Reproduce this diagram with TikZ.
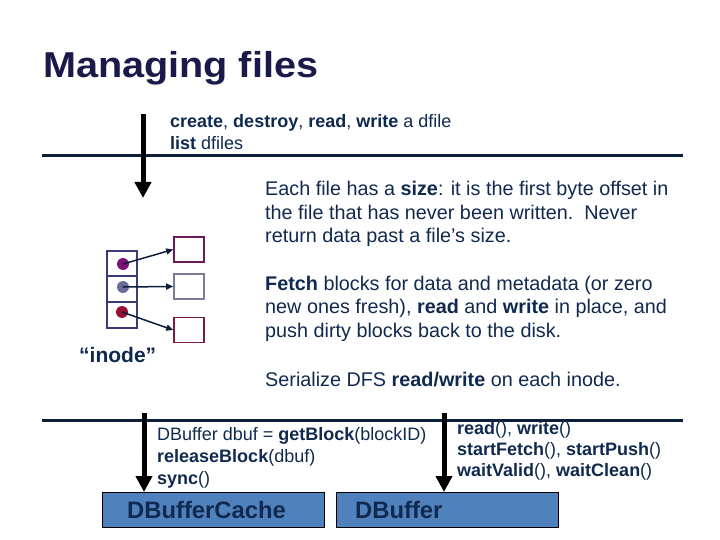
\documentclass[tikz,border=0pt]{standalone}
\usepackage{fontspec}
\setmainfont{Liberation Sans}
\newfontfamily\titlefont[FakeStretch=1.1]{Liberation Sans}
\usetikzlibrary{arrows.meta}
\definecolor{titlec}{HTML}{1A1A4A}
\definecolor{txtc}{HTML}{10294F}
\definecolor{linec}{HTML}{0D1F3A}
\definecolor{boxfill}{HTML}{4F81BD}
\definecolor{inodec}{HTML}{3B3B7A}
\definecolor{dotA}{HTML}{7B1275}
\definecolor{dotB}{HTML}{6B6B9B}
\definecolor{dotC}{HTML}{991035}
\definecolor{blkA}{HTML}{6D1A5A}
\definecolor{blkB}{HTML}{7A7A99}
\definecolor{blkC}{HTML}{7A1A45}
\tikzset{
  txt/.style={anchor=base west, inner sep=0pt, text=txtc, font=\fontsize{18}{21}\selectfont},
  para/.style={anchor=base west, inner sep=0pt, text=txtc, font=\fontsize{19.8}{23.5}\selectfont, align=left},
  sep/.style={draw=linec, line width=3pt},
  bigarrow/.style={draw=black, line width=5pt, -{Triangle[width=16pt,length=16pt]}},
  layer/.style={draw=black, line width=0.8pt, fill=boxfill, minimum width=222pt, minimum height=35pt, inner sep=0pt, outer sep=0pt},
  layertxt/.style={anchor=base west, inner sep=0pt, text=txtc, font=\fontsize{23.8}{26}\selectfont\bfseries},
  blk/.style={draw, line width=1.6pt, minimum width=30pt, minimum height=25pt, inner sep=0pt},
  dotn/.style={circle, inner sep=0pt, minimum size=12pt},
  ptr/.style={draw=linec, line width=1.5pt, -{Triangle[width=6pt,length=7pt]}},
}
\begin{document}
\begin{tikzpicture}[x=1pt,y=-1pt]
\useasboundingbox (0,0) rectangle (720,540);
% title
\node[anchor=base west, inner sep=0pt, text=titlec, font=\titlefont\fontsize{36}{40}\selectfont\bfseries] (title) at (43,78) {Managing files};
% top separator and arrow
\coordinate (l1a) at (42,156);
\coordinate (l1b) at (683,156);
\draw[sep] (l1a) -- (l1b);
\coordinate (a1s) at (143,114);
\coordinate (a1e) at (143,198);
\draw[bigarrow] (a1s) -- (a1e);
\node[txt] (t1) at (170,128) {\textbf{create}, \textbf{destroy}, \textbf{read}, \textbf{write} a dfile};
\node[txt] (t2) at (170,150) {\textbf{list} dfiles};
% paragraphs
\node[para] (p1a) at (265,196) {Each file has a \textbf{size}: it is the first byte offset in};
\node[para] (p1b) at (265,220) {the file that has never been written.\ \ Never};
\node[para] (p1c) at (265,243) {return data past a file’s size.};
\node[para] (p2a) at (265,290) {\textbf{Fetch} blocks for data and metadata (or zero};
\node[para] (p2b) at (265,313) {new ones fresh), \textbf{read} and \textbf{write} in place, and};
\node[para] (p2c) at (265,337) {push dirty blocks back to the disk.};
\node[para] (p3) at (265,386) {Serialize DFS \textbf{read/write} on each inode.};
% inode
\draw[draw=inodec, line width=1.6pt] (107,251) rectangle (137,328);
\draw[draw=inodec, line width=1.6pt] (107,276) -- (137,276);
\draw[draw=inodec, line width=1.6pt] (107,302) -- (137,302);
\node[dotn, fill=dotA] (d1) at (123,264) {};
\node[dotn, fill=dotB] (d2) at (123,287) {};
\node[dotn, fill=dotC] (d3) at (122,312) {};
\node[blk, draw=blkA] (b1) at (189,249.5) {};
\node[blk, draw=blkB] (b2) at (189,286.5) {};
\node[blk, draw=blkC] (b3) at (189,330) {};
\draw[ptr] (d1.center) -- (b1.west);
\draw[ptr] (d2.center) -- (b2.west);
\draw[ptr] (d3.center) -- (b3.west);
\node[anchor=base west, inner sep=0pt, text=txtc, font=\fontsize{21}{24}\selectfont\bfseries] (inode) at (79,362) {“inode”};
% bottom separator
\coordinate (l2a) at (42,420);
\coordinate (l2b) at (683,420);
\draw[sep] (l2a) -- (l2b);
% layer boxes
\node[layer] (cache) at (213,509.5) {};
\node[layer] (dbuf) at (447.5,509.5) {};
\node[layertxt] (cachet) at (127,518) {DBufferCache};
\node[layertxt] (dbuft) at (355,518) {DBuffer};
\coordinate (a2s) at (144,413);
\coordinate (a3s) at (444,413);
\draw[bigarrow] (a2s) -- (a2s |- cache.north);
\draw[bigarrow] (a3s) -- (a3s |- dbuf.north);
\node[txt] (m1) at (157,440) {DBuffer dbuf = \textbf{getBlock}(blockID)};
\node[txt] (m2) at (157,462) {\textbf{releaseBlock}(dbuf)};
\node[txt] (m3) at (157,484) {\textbf{sync}()};
\node[txt] (r1) at (457,434) {\textbf{read}(), \textbf{write}()};
\node[txt] (r2) at (457,455) {\textbf{startFetch}(), \textbf{startPush}()};
\node[txt] (r3) at (457,476) {\textbf{waitValid}(), \textbf{waitClean}()};
\end{tikzpicture}
\end{document}
